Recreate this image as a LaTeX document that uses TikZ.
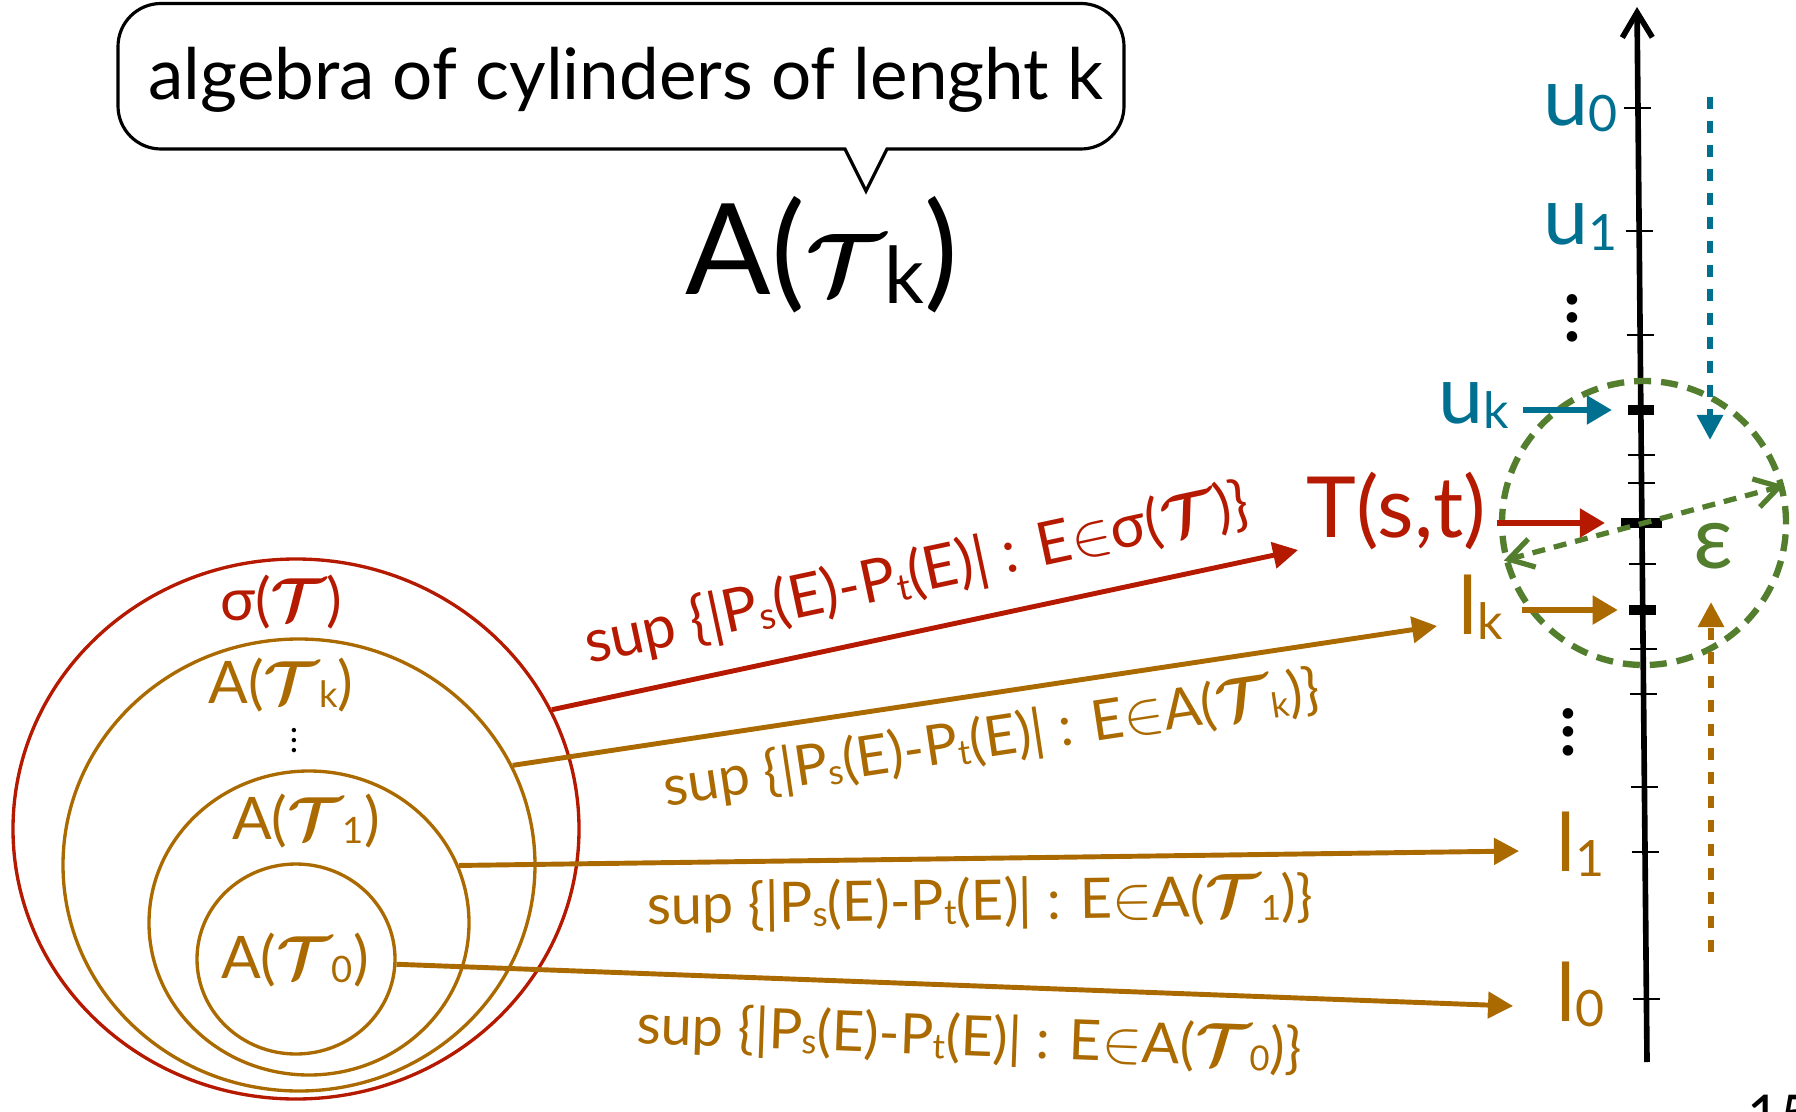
\documentclass[tikz,border=0pt]{standalone}
\usepackage{amsmath,amssymb}
\usepackage{fontspec}
\setmainfont{Lato}
\usetikzlibrary{arrows.meta,positioning,calc,shapes.geometric}

\definecolor{sigred}{RGB}{181,25,0}
\definecolor{algbrown}{RGB}{170,106,0}
\definecolor{uteal}{RGB}{0,112,145}
\definecolor{epsgreen}{RGB}{83,126,46}

\newcommand{\lo}[1]{\raisebox{-0.07em}{\scalebox{0.62}{#1}}}
\newcommand{\calT}{$\boldsymbol{\mathcal{T}}$}
\newcommand{\supE}[1]{sup \{|P\lo{s}(E)-P\lo{t}(E)| : E$\in$#1\}}
\newcommand{\vdotsof}[1]{\vbox{\baselineskip=#1\lineskiplimit=-100pt\hbox{.}\hbox{.}\hbox{.}}}

\begin{document}
\begin{tikzpicture}[
    bubble/.style={line width=0.9pt},
    bubbletxt/.style={inner sep=0, anchor=base, font=\fontsize{20.2}{24}\selectfont},
    bigA/.style={inner sep=0, anchor=base, font=\fontsize{36}{42}\selectfont},
    set/.style={draw, ellipse, inner sep=0, line width=0.95pt},
    setlbl/.style={inner sep=0, anchor=base, font=\fontsize{16.7}{20}\selectfont},
    suplbl/.style={sloped, font=\fontsize{15.9}{19}\selectfont},
    arr/.style={-{Triangle[length=2.5mm, width=2.6mm]}, line width=1.4pt},
    harr/.style={-{Triangle[length=2.5mm, width=2.8mm]}, line width=1.5pt},
    axlbl/.style={inner sep=0, anchor=base west, font=\fontsize{23}{27}\selectfont},
    axis/.style={-{Straight Barb[length=2.5mm, width=3mm]}, line width=1.6pt},
    tick/.style={line width=0.6pt},
    bigtick/.style={line width=2.7pt},
    dotarr/.style={-{Triangle[length=2.5mm, width=2.5mm]}, line width=1.7pt, dash pattern=on 0.12cm off 0.12cm},
    ballst/.style={draw=epsgreen, circle, minimum size=2.84cm, inner sep=0, line width=1.8pt, dash pattern=on 0.17cm off 0.1cm},
    epsarr/.style={{Straight Barb[length=2.4mm, width=2.9mm]}-{Straight Barb[length=2.4mm, width=2.9mm]}, line width=1.5pt, dash pattern=on 0.13cm off 0.09cm, epsgreen},
  ]
  \useasboundingbox (0,0) rectangle (17.96,-11.12);

  % callout
  \draw[bubble] (1.61,-0.035) -- (10.81,-0.035) arc[start angle=90, end angle=0, radius=0.43]
    -- (11.24,-1.06) arc[start angle=0, end angle=-90, radius=0.43]
    -- (8.87,-1.49) -- (8.66,-1.91) -- (8.45,-1.49)
    -- (1.61,-1.49) arc[start angle=270, end angle=180, radius=0.43]
    -- (1.18,-0.465) arc[start angle=180, end angle=90, radius=0.43] -- cycle;
  \node[bubbletxt] (bubbletext) at (6.26,-1.00) {algebra of cylinders of lenght k};
  \node[bigA] (bigalg) at (8.22,-2.95) {A(\calT\lo{k})};

  % nested sets
  \node[set, draw=sigred, minimum width=5.66cm, minimum height=5.40cm] (sig) at (2.96,-8.29) {};
  \node[set, draw=algbrown, minimum width=4.72cm, minimum height=4.52cm] (setk) at (2.99,-8.65) {};
  \node[set, draw=algbrown, minimum width=3.20cm, minimum height=3.04cm] (set1) at (3.09,-9.23) {};
  \node[set, draw=algbrown, minimum width=1.98cm, minimum height=1.90cm] (set0) at (2.96,-9.59) {};

  \node[setlbl, sigred] (sigl) at (2.81,-6.20) {σ(\calT)};
  \node[setlbl, algbrown] (setkl) at (2.81,-7.03) {A(\calT\lo{k})};
  \node[inner sep=0, font=\fontsize{10}{12}\selectfont] (setdots) at (2.94,-7.41) {\vdotsof{2.85pt}};
  \node[setlbl, algbrown] (set1l) at (3.06,-8.39) {A(\calT\lo{1})};
  \node[setlbl, algbrown] (set0l) at (2.95,-9.78) {A(\calT\lo{0})};

  % axis and ticks
  \coordinate (axbot) at (16.47,-10.62);
  \coordinate (axtop) at (16.37,-0.07);
  \draw[axis] (axbot) -- (axtop);
  \foreach \ty in {108,231,335,455,483,564,649,694,787,852,999}
    \draw[tick] ($(axbot)!{(1062-\ty)/1055}!(axtop)$) +(-0.135,0) -- +(0.135,0);
  \coordinate (tk) at ($(axbot)!{(1062-410)/1055}!(axtop)$);
  \coordinate (ts) at ($(axbot)!{(1062-523)/1055}!(axtop)$);
  \coordinate (tl) at ($(axbot)!{(1062-610)/1055}!(axtop)$);
  \draw[bigtick] (tk) +(-0.13,0) -- +(0.13,0);
  \draw[bigtick] (ts) +(-0.205,0) -- +(0.205,0);
  \draw[bigtick] (tl) +(-0.135,0) -- +(0.135,0);

  % axis labels
  \node[axlbl, uteal] (u0) at (15.43,-1.26) {u\lo{0}};
  \node[axlbl, uteal] (u1) at (15.43,-2.45) {u\lo{1}};
  \node[inner sep=0, font=\fontsize{24}{28}\selectfont] (udots) at (15.72,-3.18) {\vdotsof{5.3pt}};
  \node[axlbl, uteal] (uk) at (14.38,-4.23) {u\lo{k}};
  \node[axlbl, sigred, font=\fontsize{24}{28}\selectfont] (tst) at (13.06,-5.37) {T(s,t)};
  \node[axlbl, algbrown] (lk) at (14.58,-6.34) {l\lo{k}};
  \node[inner sep=0, font=\fontsize{24}{28}\selectfont] (ldots) at (15.68,-7.32) {\vdotsof{5.3pt}};
  \node[axlbl, algbrown] (l1) at (15.56,-8.71) {l\lo{1}};
  \node[axlbl, algbrown] (l0) at (15.56,-10.21) {l\lo{0}};
  \node[axlbl, font=\fontsize{16}{19}\selectfont] (page) at (17.47,-11.35) {15};

  % epsilon ball
  \node[ballst] (ball) at (16.44,-5.23) {};
  \node[inner sep=0, anchor=base, epsgreen, font=\fontsize{25}{29}\selectfont] (eps) at (17.13,-5.68) {ε};
  \draw[epsarr] (ball.195) -- (ball.15);
  \coordinate (utop) at (17.10,-0.97);
  \coordinate (uend) at (17.10,-4.40);
  \draw[dotarr, uteal] (utop) -- (uend);
  \coordinate (lbot) at (17.11,-9.52);
  \coordinate (lend) at (17.11,-6.02);
  \draw[dotarr, algbrown] (lbot) -- (lend);

  % arrows onto the axis
  \draw[harr, uteal, shorten <=0.13cm, shorten >=0.29cm] (uk.east |- tk) -- (tk);
  \draw[harr, sigred, shorten <=0.10cm, shorten >=0.37cm] (tst.east |- ts) -- (ts);
  \draw[harr, algbrown, shorten <=0.18cm, shorten >=0.25cm] (lk.east |- tl) -- (tl);

  % distances
  \draw[arr, sigred] (sig.25) -- node[pos=0.505, above, inner sep=7pt, suplbl, font=\fontsize{17}{20}\selectfont] {\supE{σ(\calT)}} ([shift={(-0.08,-0.13)}]tst.base west);
  \draw[arr, algbrown] (setk.25) -- node[pos=0.511, below, inner sep=5pt, suplbl] {\supE{A(\calT\lo{k})}} ([shift={(-0.21,0.08)}]lk.base west);
  \draw[arr, algbrown] (set1.21) -- node[pos=0.491, below, inner sep=4.5pt, suplbl] {\supE{A(\calT\lo{1})}} ([shift={(-0.37,0.20)}]l1.base west);
  \draw[arr, algbrown] (set0.-3) -- node[pos=0.515, below, inner sep=7pt, suplbl] {\supE{A(\calT\lo{0})}} ([shift={(-0.43,0.15)}]l0.base west);
\end{tikzpicture}
\end{document}
